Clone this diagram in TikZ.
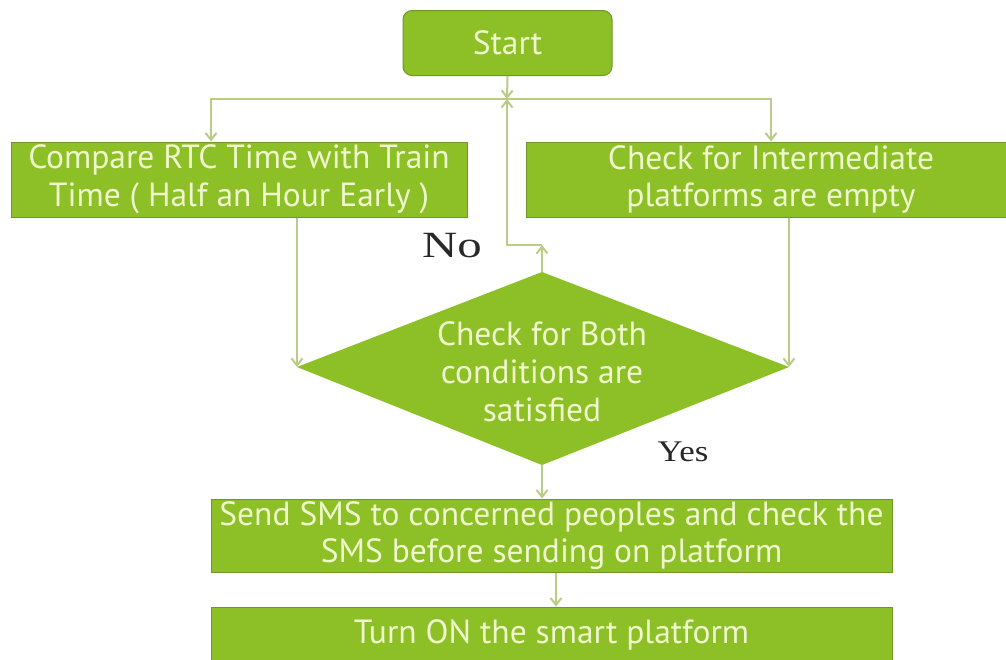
\documentclass[tikz,border=0pt]{standalone}
\usepackage{fontspec}
\setmainfont{PT Sans}
\newfontfamily\answerfont{Liberation Serif}
\usetikzlibrary{arrows.meta,calc}
\definecolor{boxgreen}{RGB}{141,192,38}
\definecolor{boxedge}{RGB}{112,152,40}
\definecolor{boxtext}{RGB}{240,248,205}
\definecolor{linkgreen}{RGB}{185,205,135}
\definecolor{labelgray}{RGB}{40,40,40}
\tikzset{
  procbox/.style={fill=boxgreen, draw=boxedge, line width=1pt, text=boxtext,
    font=\fontsize{33.5}{37.5}\selectfont, align=center, inner sep=0pt},
  boxtextonly/.style={text=boxtext, font=\fontsize{33.5}{38}\selectfont, align=center, inner sep=0pt},
  link/.style={draw=linkgreen, line width=2pt, -{Straight Barb[length=7pt,width=11pt]}},
  answer/.style={text=labelgray, inner sep=0pt}
}
\begin{document}
\begin{tikzpicture}[x=1pt,y=-1pt]
\useasboundingbox (0,0) rectangle (1006,659);
\clip (0,0) rectangle (1006,659);
\fill[white] (0,0) rectangle (1006,659);

% nodes
\node[procbox, rounded corners=9pt, minimum width=209pt, minimum height=65pt] (start) at (507.5,43) {Start};
\node[procbox, minimum width=456pt, minimum height=75pt] (rtc) at (239,179.5) {Compare RTC Time with Train\\Time ( Half an Hour Early )};
\node[procbox, minimum width=490pt, minimum height=75pt] (plat) at (771,179.5) {Check for Intermediate\\platforms are empty};

\coordinate (dT) at (542,272);
\coordinate (dL) at (297,367);
\coordinate (dR) at (789,367);
\coordinate (dB) at (542,465);
\fill[boxgreen] (dT) -- (dR) -- (dB) -- (dL) -- cycle;
\node[boxtextonly] (cond) at (542,372) {Check for Both\\conditions are\\satisfied};

\node[procbox, minimum width=681pt, minimum height=73pt] (sms) at (551.5,535.5) {Send SMS to concerned peoples and check the\\SMS before sending on platform};
\node[procbox, minimum width=681pt, minimum height=56pt] (on) at (551.5,635) {Turn ON the smart platform};

\node[answer, font=\answerfont\fontsize{37}{37}\selectfont] (no) at (452,246) {\scalebox{1.32}[1]{No}};
\node[answer, font=\answerfont\fontsize{30}{30}\selectfont] (yes) at (683,452) {\scalebox{1.16}[1]{Yes}};

% connectors
\coordinate (j) at (507,99);
\coordinate (nb) at (542,245);
\draw[link] (start.south) -- (j);
\draw[link] (j) -| ([xshift=-28pt]rtc.north);
\draw[link] (j) -| (plat.north);
\draw[link] (rtc.south -| dL) -- (dL);
\draw[link] (plat.south -| dR) -- (dR);
\draw[link] (dT) -- (nb);
\draw[link] (nb) -| (j);
\draw[link] (dB) -- (sms.north -| dB);
\draw[link] ([xshift=4.5pt]sms.south) -- ([xshift=4.5pt]on.north);
\end{tikzpicture}
\end{document}
